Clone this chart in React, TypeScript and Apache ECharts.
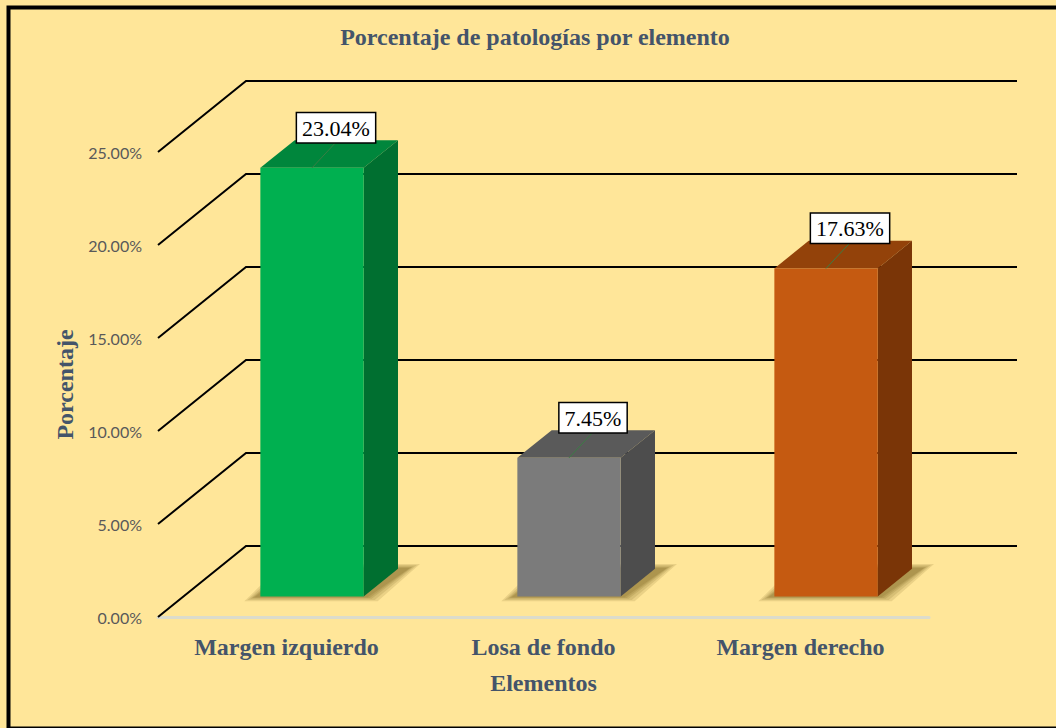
import React, { useEffect, useRef } from "react";
import * as echarts from "echarts";

const categories = ["Margen izquierdo", "Losa de fondo", "Margen derecho"];
const values = [23.04, 7.45, 17.63];
const yTicks = [0, 5, 10, 15, 20, 25];
const frontColors = ["#00B050", "#7B7B7B", "#C55A11"];
const topColors = ["#00863C", "#5A5A5A", "#93420A"];
const sideColors = ["#006F30", "#4D4D4D", "#7A3507"];

const DX = 88;
const DY = -71;
const F1 = 0.29;
const F2 = 0.68;
const SERIF = "'Liberation Serif', 'Times New Roman', serif";

export default function App() {
  const ref = useRef<HTMLDivElement>(null);
  useEffect(() => {
    if (!ref.current) return;
    const chart = echarts.init(ref.current, null, { renderer: "svg" });
    const option: any = {
      animation: false,
      backgroundColor: "#FFE699",
      title: {
        text: "Porcentaje de patologías por elemento",
        left: 530,
        top: 20,
        textAlign: "center",
        textStyle: { fontFamily: SERIF, fontWeight: "bold", fontSize: 24, color: "#44546A" },
      },
      grid: { left: 158, top: 152, width: 771, height: 465 },
      xAxis: {
        type: "category",
        data: categories,
        name: "Elementos",
        nameLocation: "middle",
        nameGap: 54,
        nameTextStyle: { fontFamily: SERIF, fontWeight: "bold", fontSize: 24, color: "#44546A" },
        axisLine: { show: true, lineStyle: { color: "#DCDCCC", width: 3 } },
        axisTick: { show: false },
        axisLabel: { margin: 18, fontFamily: SERIF, fontWeight: "bold", fontSize: 24, color: "#44546A" },
        splitLine: { show: false },
      },
      yAxis: {
        type: "value",
        min: 0,
        max: 25,
        interval: 5,
        name: "Porcentaje",
        nameLocation: "middle",
        nameGap: 77,
        nameTextStyle: { fontFamily: SERIF, fontWeight: "bold", fontSize: 24, color: "#44546A" },
        axisLine: { show: false },
        axisTick: { show: false },
        splitLine: { show: false },
        axisLabel: {
          margin: 16,
          fontFamily: "Lato, 'Open Sans', sans-serif",
          fontSize: 16,
          color: "#595959",
          formatter: (v: number) => v.toFixed(2) + "%",
        },
      },
      graphic: [
        {
          type: "rect",
          left: 6,
          top: 5,
          shape: { x: 0, y: 0, width: 1070, height: 721 },
          style: { fill: "none", stroke: "#000", lineWidth: 4 },
          z: 100,
        },
      ],
      series: [
        {
          type: "custom",
          z: 1,
          silent: true,
          data: yTicks.map((t) => [0, t]),
          encode: { x: 0, y: 1 },
          renderItem: (params: any, api: any) => {
            const v = api.value(1);
            const y = api.coord([0, v])[1];
            const cs = params.coordSys;
            const x0 = cs.x;
            const x1 = cs.x + cs.width;
            return {
              type: "polyline",
              shape: { points: [[x0, y], [x0 + DX, y + DY], [x1 + DX, y + DY]] },
              style: { fill: "none", stroke: "#000", lineWidth: 2 },
            };
          },
        },
        {
          type: "custom",
          z: 2,
          data: values.map((v, i) => [i, v]),
          encode: { x: 0, y: 1 },
          renderItem: (params: any, api: any) => {
            const i = api.value(0);
            const v = api.value(1);
            const base = api.coord([i, 0]);
            const top = api.coord([i, v]);
            const band = api.size([1, 0])[0];
            const w = band * 0.402;
            const ox = DX * F1;
            const oy = DY * F1;
            const bdx = DX * (F2 - F1);
            const bdy = DY * (F2 - F1);
            const xl = base[0] - w / 2 + ox;
            const xr = base[0] + w / 2 + ox;
            const yb = base[1] + oy;
            const yt = top[1] + oy;
            const cx = (xl + xr) / 2;
            const labelX = cx + 24;
            const labelY = yt + bdy + 2;
            const shadows: any[] = [];
            [12, 9, 6, 4, 2].forEach((k) => {
              shadows.push({
                type: "polygon",
                shape: {
                  points: [
                    [xl - k - 4, yb + k * 0.4],
                    [xr + k + 2, yb + k * 0.4],
                    [xr + bdx + k + 10, yb + bdy - k * 0.4],
                    [xl + bdx - k, yb + bdy - k * 0.4],
                  ],
                },
                style: { fill: "rgba(95,70,10,0.13)" },
              });
            });
            return {
              type: "group",
              children: [
                ...shadows,
                {
                  type: "polygon",
                  shape: { points: [[xl, yt], [xr, yt], [xr + bdx, yt + bdy], [xl + bdx, yt + bdy]] },
                  style: { fill: topColors[i] },
                },
                {
                  type: "polygon",
                  shape: { points: [[xr, yt], [xr + bdx, yt + bdy], [xr + bdx, yb + bdy], [xr, yb]] },
                  style: { fill: sideColors[i] },
                },
                {
                  type: "rect",
                  shape: { x: xl, y: yt, width: xr - xl, height: yb - yt },
                  style: { fill: frontColors[i] },
                },
                {
                  type: "line",
                  shape: { x1: cx, y1: yt, x2: labelX, y2: labelY },
                  style: { stroke: "#3A7D44", lineWidth: 1 },
                },
                {
                  type: "text",
                  x: labelX,
                  y: labelY,
                  style: {
                    text: v.toFixed(2) + "%",
                    fontFamily: SERIF,
                    fontSize: 22,
                    fill: "#000",
                    align: "center",
                    verticalAlign: "bottom",
                    backgroundColor: "#FFFFFF",
                    borderColor: "#000",
                    borderWidth: 1.5,
                    padding: [4, 5, 3, 5],
                  },
                },
              ],
            };
          },
        },
      ],
    };
    chart.setOption(option);
    return () => chart.dispose();
  }, []);
  return (
    <div
      ref={ref}
      style={{ position: "fixed", left: 0, top: 0, width: 1056, height: 728 }}
    />
  );
}
